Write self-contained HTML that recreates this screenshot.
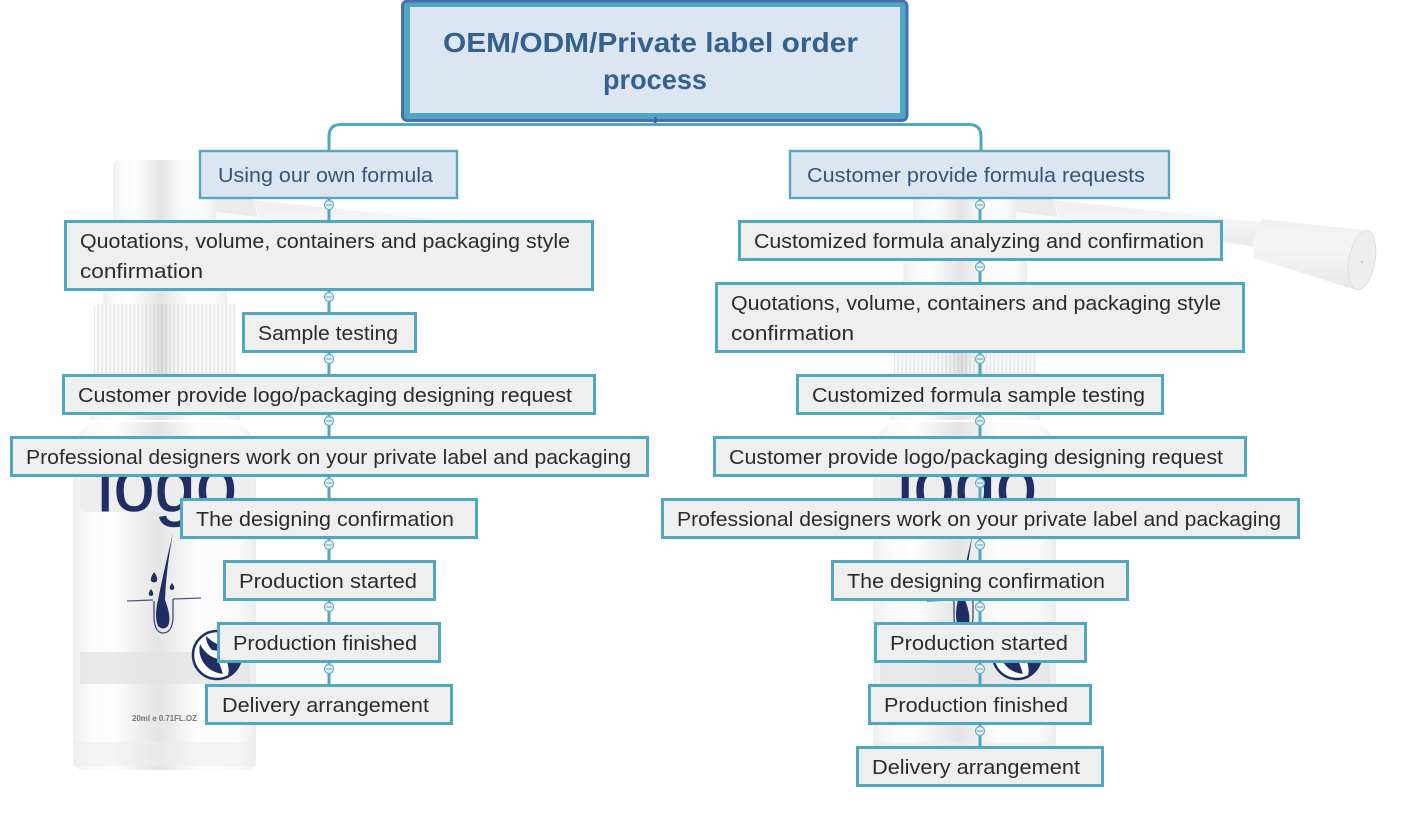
<!DOCTYPE html>
<html><head><meta charset="utf-8"><style>
html,body{margin:0;padding:0;background:#fff;width:1410px;height:820px;overflow:hidden}
svg{display:block}
.t{font-family:"Liberation Sans",sans-serif;font-size:20px;fill:#2b2b2b}
.s{fill:#33557a}
.r{font-family:"Liberation Sans",sans-serif;font-size:28px;font-weight:bold;fill:#35618f}
.b{fill:#efefef;stroke:#4fa7c0;stroke-width:3}
.h{fill:#dce6f2;stroke:#5ba6bf;stroke-width:2.4}
.c{stroke:#4fa7c0;stroke-width:3;fill:none}
.k{fill:#e6f2f6;stroke:#5fb0c8;stroke-width:1.2}
.m{stroke:#6f9aab;stroke-width:1}
</style></head><body>
<svg width="1410" height="820" viewBox="0 0 1410 820" xmlns="http://www.w3.org/2000/svg">
<defs>
<linearGradient id="g" x1="0" x2="1" y1="0" y2="0">
<stop offset="0" stop-color="#f0f0f0"/><stop offset=".1" stop-color="#fafafa"/><stop offset=".22" stop-color="#fefefe"/><stop offset=".38" stop-color="#ececec"/><stop offset=".47" stop-color="#e4e4e4"/><stop offset=".56" stop-color="#eeeeee"/><stop offset=".68" stop-color="#fdfdfd"/><stop offset=".9" stop-color="#fbfbfb"/><stop offset="1" stop-color="#ececec"/>
</linearGradient>
<linearGradient id="o" x1="0" x2="1" y1="0" y2="0">
<stop offset="0" stop-color="#fff" stop-opacity=".2"/><stop offset=".28" stop-color="#fff" stop-opacity=".15"/><stop offset=".47" stop-color="#bbb" stop-opacity=".45"/><stop offset=".65" stop-color="#fff" stop-opacity=".1"/><stop offset="1" stop-color="#fff" stop-opacity=".2"/>
</linearGradient>
<linearGradient id="n" x1="0" x2="0" y1="0" y2="1">
<stop offset="0" stop-color="#efefef"/><stop offset=".4" stop-color="#f5f5f5"/><stop offset=".6" stop-color="#f1f1f1"/><stop offset="1" stop-color="#e9e9e9"/>
</linearGradient>
<pattern id="p" width="4" height="10" patternUnits="userSpaceOnUse">
<rect width="4" height="10" fill="#f8f8f8"/><rect x="1.500" width="1.500" height="10" fill="#e2e2e2"/>
</pattern>
<g id="bottle">
<path d="M253 200L460 222L457 247L260 218Z" fill="url(#n)"/>
<path d="M462 219L563 230Q573 260 553 289L455 258Q448 240 462 219Z" fill="url(#n)"/>
<ellipse cx="562" cy="260" rx="13" ry="30" transform="rotate(10 562 260)" fill="#eeeeee" stroke="#dfdfdf"/>
<circle cx="562" cy="262" r="1.500" fill="#cfcfcf"/>
<path d="M216 197H252L258 217L216 212Z" fill="#ebebeb"/>
<rect x="113" y="160" width="103" height="110" rx="6" fill="url(#g)"/>
<rect x="103" y="262" width="124" height="42" fill="url(#g)"/>
<rect x="94" y="304" width="143" height="72" rx="3" fill="url(#p)"/>
<rect x="94" y="304" width="143" height="72" rx="3" fill="url(#o)"/>
<rect x="90" y="376" width="150" height="44" fill="url(#g)"/>
<path d="M73 460V448Q75 428 97 422H232Q254 428 256 448V758Q256 770 244 770H85Q73 770 73 758Z" fill="url(#g)"/>
<rect x="73" y="742" width="183" height="24" fill="#ececec" opacity=".55"/>
<rect x="80" y="652" width="170" height="32" fill="#e4e4e4" opacity=".8"/>
<rect x="80" y="474" width="170" height="38" rx="6" fill="#ebebeb" opacity=".85"/>
<path d="M173 533Q166 570 165 600Q172 618 168 626Q163 631 158 626Q154 616 158 600Q164 570 173 533Z" fill="#1f2f63"/>
<path d="M127 601L153 600M173 599L201 598" stroke="#4c5780" stroke-width="1.300"/>
<path d="M154 601V618Q155 633 163 633Q172 633 173 618V599" fill="none" stroke="#3d4a78" stroke-width="1.300"/>
<path d="M154 572Q150 578 151 581Q154 584 157 581Q158 577 154 572ZM172 583Q169 587 170 589Q172 591 174 589Q175 587 172 583ZM151 589Q148 593 149 595Q151 597 153 595Q154 593 151 589Z" fill="#1f2f63"/>
<circle cx="217" cy="655" r="24" fill="#fff" stroke="#1f2f63" stroke-width="2.500"/>
<path d="M206 636Q216 646 230 648Q222 652 212 650Q206 644 206 636ZM200 644Q206 656 218 659L223 674Q208 672 202 660Q198 652 200 644ZM226 660L240 658Q238 670 228 675Q230 668 226 660Z" fill="#1f2f63"/>
</g>
</defs>

<use href="#bottle"/>
<use href="#bottle" x="800"/>
<text x="97" y="511" font-family="Liberation Sans,sans-serif" font-size="76" fill="#1f2f63" stroke="#1f2f63" stroke-width=".6" textLength="140" lengthAdjust="spacingAndGlyphs">logo</text>
<text x="897" y="511" font-family="Liberation Sans,sans-serif" font-size="76" fill="#1f2f63" stroke="#1f2f63" stroke-width=".6" textLength="140" lengthAdjust="spacingAndGlyphs">logo</text>
<text x="132" y="721" font-family="Liberation Sans,sans-serif" font-size="8" font-weight="bold" fill="#777" textLength="65">20ml e 0.71FL.OZ</text>

<path class="c" d="M655 122V124.500M329 150V136.500Q329 124.500 341 124.500H969Q981 124.500 981 136.500V150"/>
<path class="c" d="M329 199V690M980 199V750"/>

<rect x="402.500" y="1" width="504.500" height="119.500" rx="5" fill="#4fa7c0" stroke="#4a6cb4" stroke-width="3"/>
<rect x="410" y="7" width="490" height="106" fill="#dce6f2"/>
<text class="r" x="443" y="52" textLength="415" lengthAdjust="spacingAndGlyphs">OEM/ODM/Private label order</text>
<text class="r" x="603" y="89" textLength="104" lengthAdjust="spacingAndGlyphs">process</text>
<rect x="654" y="117" width="2.500" height="6" fill="#3c62b0"/>

<g>
<rect class="h" x="200" y="151" width="257" height="47"/>
<rect class="b" x="65.500" y="221.500" width="527" height="68"/>
<rect class="b" x="243.500" y="313.500" width="172" height="38"/>
<rect class="b" x="63.500" y="375.500" width="531" height="38"/>
<rect class="b" x="11.500" y="437.500" width="636" height="38"/>
<rect class="b" x="181.500" y="499.500" width="295" height="38"/>
<rect class="b" x="224.500" y="561.500" width="210" height="38"/>
<rect class="b" x="218.500" y="623.500" width="221" height="38"/>
<rect class="b" x="206.500" y="685.500" width="245" height="38"/>

<rect class="h" x="790" y="151" width="379" height="47"/>
<rect class="b" x="739.500" y="221.500" width="482" height="38"/>
<rect class="b" x="716.500" y="283.500" width="527" height="68"/>
<rect class="b" x="797.500" y="375.500" width="365" height="38"/>
<rect class="b" x="714.500" y="437.500" width="531" height="38"/>
<rect class="b" x="662.500" y="499.500" width="636" height="38"/>
<rect class="b" x="832.500" y="561.500" width="295" height="38"/>
<rect class="b" x="875.500" y="623.500" width="210" height="38"/>
<rect class="b" x="869.500" y="685.500" width="221" height="38"/>
<rect class="b" x="857.500" y="747.500" width="245" height="38"/>
</g>

<g>
<circle class="k" cx="329" cy="205" r="4.500"/><path class="m" d="M326 205H332"/>
<circle class="k" cx="329" cy="297" r="4.500"/><path class="m" d="M326 297H332"/>
<circle class="k" cx="329" cy="359" r="4.500"/><path class="m" d="M326 359H332"/>
<circle class="k" cx="329" cy="421" r="4.500"/><path class="m" d="M326 421H332"/>
<circle class="k" cx="329" cy="483" r="4.500"/><path class="m" d="M326 483H332"/>
<circle class="k" cx="329" cy="545" r="4.500"/><path class="m" d="M326 545H332"/>
<circle class="k" cx="329" cy="607" r="4.500"/><path class="m" d="M326 607H332"/>
<circle class="k" cx="329" cy="669" r="4.500"/><path class="m" d="M326 669H332"/>
<circle class="k" cx="980" cy="205" r="4.500"/><path class="m" d="M977 205H983"/>
<circle class="k" cx="980" cy="267" r="4.500"/><path class="m" d="M977 267H983"/>
<circle class="k" cx="980" cy="359" r="4.500"/><path class="m" d="M977 359H983"/>
<circle class="k" cx="980" cy="421" r="4.500"/><path class="m" d="M977 421H983"/>
<circle class="k" cx="980" cy="483" r="4.500"/><path class="m" d="M977 483H983"/>
<circle class="k" cx="980" cy="545" r="4.500"/><path class="m" d="M977 545H983"/>
<circle class="k" cx="980" cy="607" r="4.500"/><path class="m" d="M977 607H983"/>
<circle class="k" cx="980" cy="669" r="4.500"/><path class="m" d="M977 669H983"/>
<circle class="k" cx="980" cy="731" r="4.500"/><path class="m" d="M977 731H983"/>
</g>

<g>
<text class="t s" x="218" y="182" textLength="215" lengthAdjust="spacingAndGlyphs">Using our own formula</text>
<text class="t" x="80" y="248" textLength="490" lengthAdjust="spacingAndGlyphs">Quotations, volume, containers and packaging style</text>
<text class="t" x="80" y="278" textLength="123" lengthAdjust="spacingAndGlyphs">confirmation</text>
<text class="t" x="258" y="340" textLength="140" lengthAdjust="spacingAndGlyphs">Sample testing</text>
<text class="t" x="78" y="402" textLength="494" lengthAdjust="spacingAndGlyphs">Customer provide logo/packaging designing request</text>
<text class="t" x="26" y="464" textLength="605" lengthAdjust="spacingAndGlyphs">Professional designers work on your private label and packaging</text>
<text class="t" x="196" y="526" textLength="258" lengthAdjust="spacingAndGlyphs">The designing confirmation</text>
<text class="t" x="239" y="588" textLength="178" lengthAdjust="spacingAndGlyphs">Production started</text>
<text class="t" x="233" y="650" textLength="184" lengthAdjust="spacingAndGlyphs">Production finished</text>
<text class="t" x="222" y="712" textLength="207" lengthAdjust="spacingAndGlyphs">Delivery arrangement</text>

<text class="t s" x="807" y="182" textLength="338" lengthAdjust="spacingAndGlyphs">Customer provide formula requests</text>
<text class="t" x="754" y="248" textLength="450" lengthAdjust="spacingAndGlyphs">Customized formula analyzing and confirmation</text>
<text class="t" x="731" y="310" textLength="490" lengthAdjust="spacingAndGlyphs">Quotations, volume, containers and packaging style</text>
<text class="t" x="731" y="340" textLength="123" lengthAdjust="spacingAndGlyphs">confirmation</text>
<text class="t" x="812" y="402" textLength="333" lengthAdjust="spacingAndGlyphs">Customized formula sample testing</text>
<text class="t" x="729" y="464" textLength="494" lengthAdjust="spacingAndGlyphs">Customer provide logo/packaging designing request</text>
<text class="t" x="677" y="526" textLength="604" lengthAdjust="spacingAndGlyphs">Professional designers work on your private label and packaging</text>
<text class="t" x="847" y="588" textLength="258" lengthAdjust="spacingAndGlyphs">The designing confirmation</text>
<text class="t" x="890" y="650" textLength="178" lengthAdjust="spacingAndGlyphs">Production started</text>
<text class="t" x="884" y="712" textLength="184" lengthAdjust="spacingAndGlyphs">Production finished</text>
<text class="t" x="872" y="774" textLength="208" lengthAdjust="spacingAndGlyphs">Delivery arrangement</text>
</g>
</svg>
</body></html>
